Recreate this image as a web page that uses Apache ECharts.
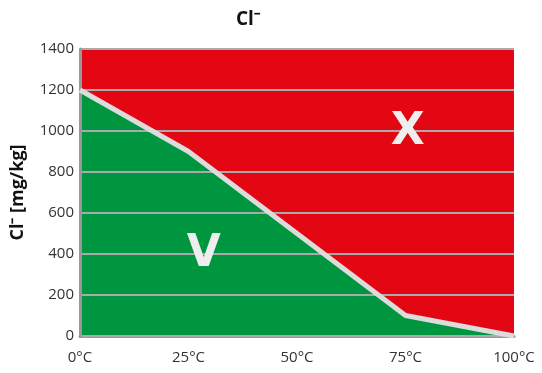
<!DOCTYPE html>
<html><head><meta charset="utf-8">
<script src="https://cdn.jsdelivr.net/npm/echarts@6/dist/echarts.min.js"></script>
<style>html,body{margin:0;padding:0;background:#fff}#c{width:542px;height:373px}</style>
</head><body><div id="c"></div>
<script>
var temps = [0, 25, 75, 100];
var chloride = [1200, 900, 100, 0];
var xTicks = [0, 25, 50, 75, 100];
var yTicks = [0, 200, 400, 600, 800, 1000, 1200, 1400];
var regionLabels = ['X', 'V'];
var regionPos = [[75.5, 990], [28.5, 395]];

var pts = temps.map(function (t, i) { return [t, chloride[i]]; });
var chart = echarts.init(document.getElementById('c'));
var font = 'Open Sans';
chart.setOption({
  animation: false,
  title: { text: 'Cl\u207B', left: 231, top: 5, textStyle: { fontFamily: font, fontWeight: 'bold', fontSize: 19, color: '#111' } },
  grid: { left: 80, right: 28, top: 49, bottom: 37, show: true, backgroundColor: '#e30613', borderWidth: 0 },
  xAxis: {
    type: 'value', min: xTicks[0], max: xTicks[xTicks.length - 1], interval: 25,
    axisLine: { show: true, lineStyle: { color: '#999', width: 3 } },
    axisTick: { show: false }, splitLine: { show: false },
    axisLabel: { formatter: '{value}°C', fontFamily: font, fontSize: 15, color: '#333', margin: 14 }
  },
  yAxis: {
    type: 'value', min: yTicks[0], max: yTicks[yTicks.length - 1], interval: 200, z: 3,
    name: 'Cl\u207B [mg/kg]', nameLocation: 'middle', nameGap: 53, nameRotate: 90,
    nameTextStyle: { fontFamily: font, fontWeight: 'bold', fontSize: 18, color: '#111' },
    axisLine: { show: true, lineStyle: { color: '#999', width: 3 } },
    axisTick: { show: false },
    splitLine: { show: true, lineStyle: { color: '#aaa', width: 2 } },
    axisLabel: { formatter: function (v) { return String(v); }, fontFamily: font, fontSize: 15, color: '#333', margin: 6 }
  },
  series: [
    { type: 'line', data: pts, symbol: 'none', z: 2, lineStyle: { width: 0 }, areaStyle: { color: '#009640', opacity: 1 } },
    { type: 'line', data: pts, symbol: 'none', z: 5, lineStyle: { width: 5, color: '#dcdcdc' },
      markPoint: {
        symbol: 'circle', symbolSize: 0,
        label: { show: true, position: 'inside', color: '#eeeeee', fontFamily: 'DejaVu Sans', fontWeight: 'bold', fontSize: 44, formatter: '{b}' },
        data: regionLabels.map(function (n, i) { return { name: n, coord: regionPos[i] }; })
      } }
  ]
});
</script></body></html>
